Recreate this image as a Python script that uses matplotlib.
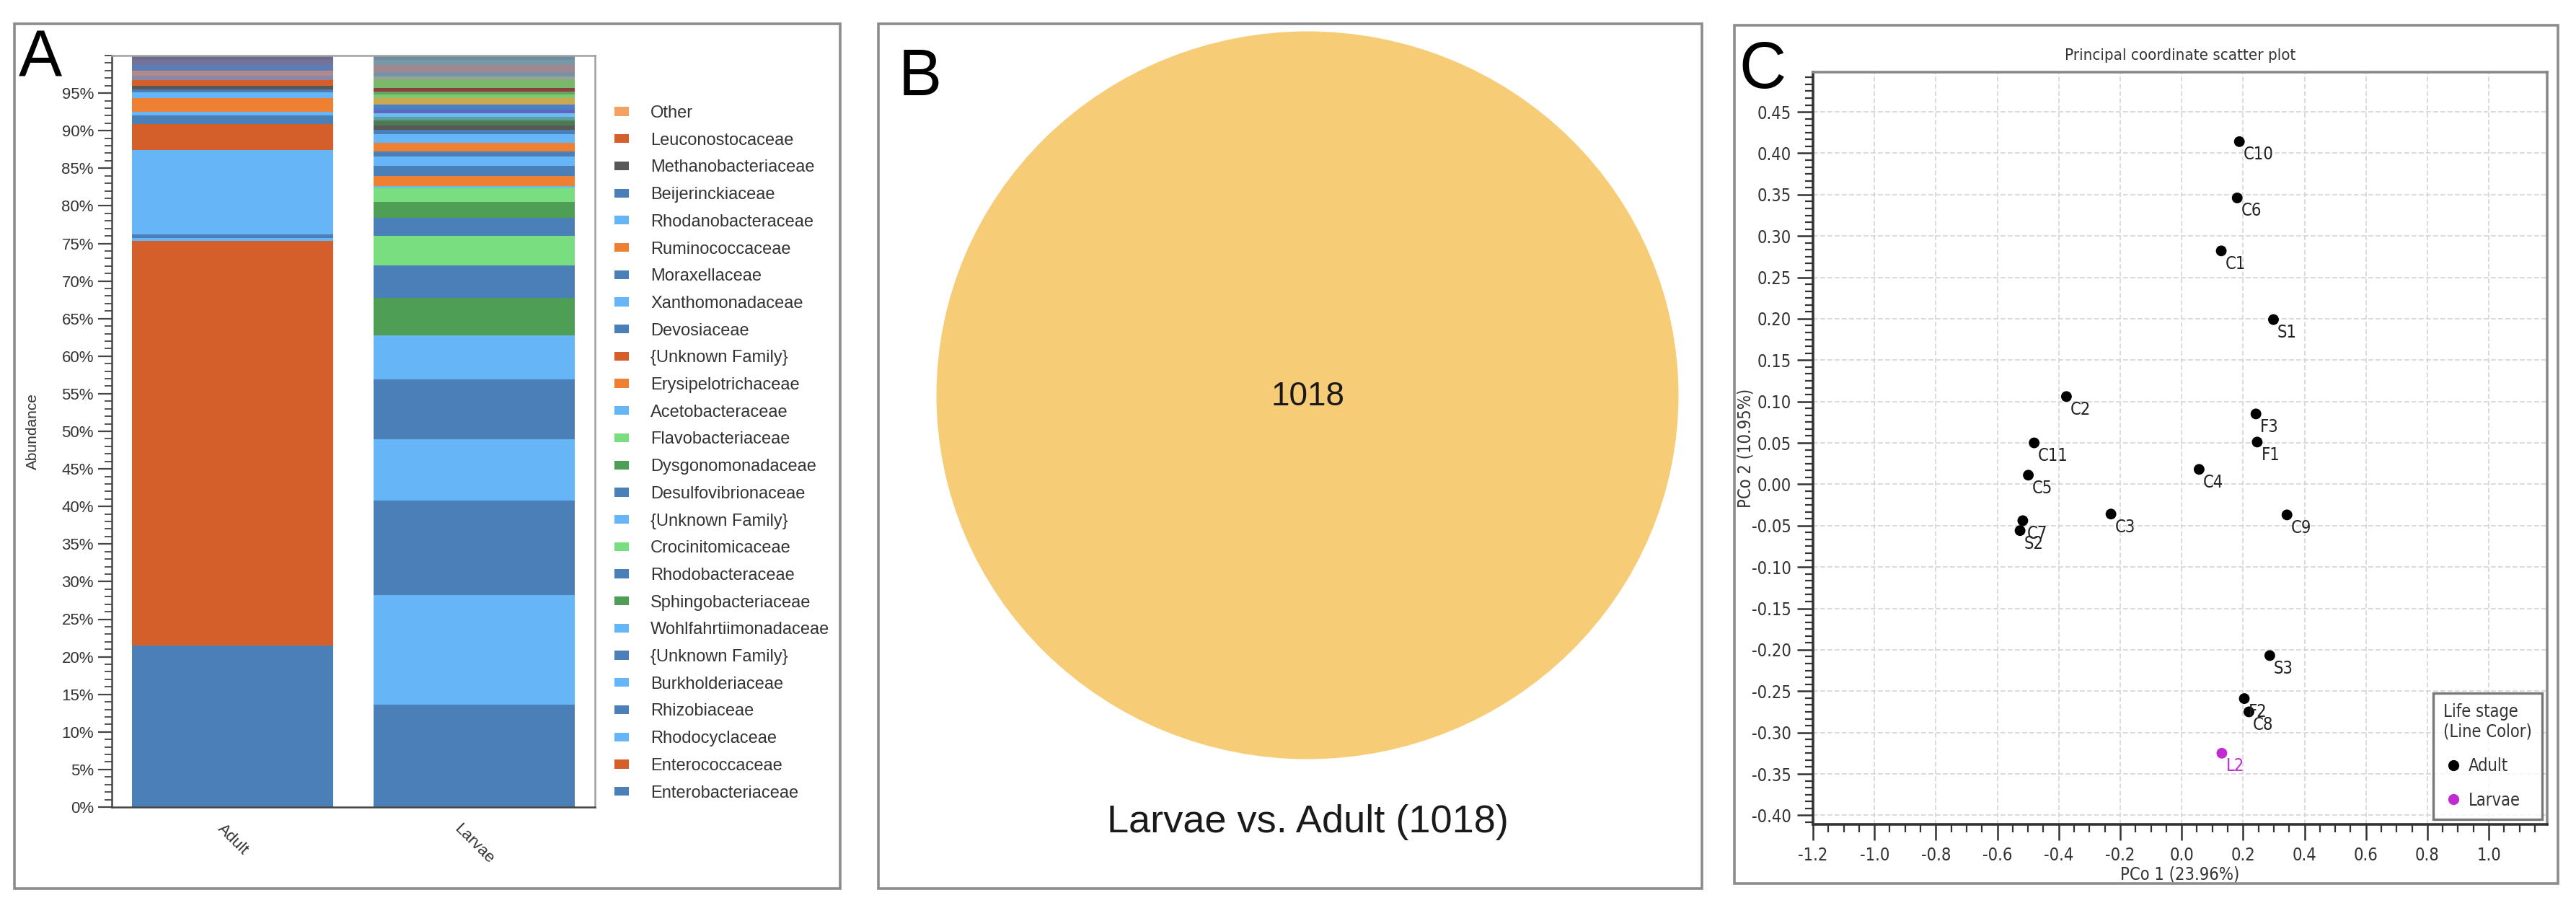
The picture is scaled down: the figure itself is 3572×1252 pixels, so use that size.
import numpy as np
import matplotlib
matplotlib.use('Agg')
import matplotlib.pyplot as plt
from matplotlib.patches import Rectangle, Ellipse, Patch
from matplotlib.lines import Line2D
from matplotlib.ticker import MultipleLocator, AutoMinorLocator, FuncFormatter
from matplotlib import font_manager

W, H = 3573, 1252  # output size in px (dpi 100)

# ---- panel A: relative abundance of families (%), stacked bottom -> top
families = ['Enterobacteriaceae', 'Enterococcaceae', 'Rhodocyclaceae', 'Rhizobiaceae', 'Burkholderiaceae',
            '{Unknown Family}', 'Wohlfahrtiimonadaceae', 'Sphingobacteriaceae', 'Rhodobacteraceae',
            'Crocinitomicaceae', '{Unknown Family}', 'Desulfovibrionaceae', 'Dysgonomonadaceae',
            'Flavobacteriaceae', 'Acetobacteraceae', 'Erysipelotrichaceae', '{Unknown Family}', 'Devosiaceae',
            'Xanthomonadaceae', 'Moraxellaceae', 'Ruminococcaceae', 'Rhodanobacteraceae', 'Beijerinckiaceae',
            'Methanobacteriaceae', 'Leuconostocaceae', 'Other']
adult = [21.5, 53.8, 0.4, 0.5, 11.2, 0.0, 0.0, 0.0, 0.0, 0.0, 0.0, 0.0, 0.0,
         0.0, 0.0, 0.0, 3.5, 1.1, 0.5, 0.0, 1.8, 0.8, 0.4, 0.5, 0.7, 0.0]
larvae = [13.6, 0.0, 14.6, 12.6, 8.1, 8.0, 5.9, 5.0, 4.3, 3.9, 0.0, 2.4, 2.1,
          1.9, 0.2, 1.4, 0.0, 1.3, 1.3, 0.6, 1.2, 1.1, 0.6, 0.6, 0.0, 0.0]
blue, lblue, ored, orange = '#4A7FB8', '#66B5F6', '#D55F2B', '#EE8034'
lgreen, green, dgray, lorange = '#79DE7F', '#4E9E56', '#585858', '#F3A263'
familyColors = [blue, ored, lblue, blue, lblue, blue, lblue, green, blue, lgreen, lblue, blue, green,
                lgreen, lblue, orange, ored, blue, lblue, blue, orange, lblue, blue, dgray, ored, lorange]
# thin stripes at the top of the bars that are not listed in the legend
minorColors = ['#4E7A52', '#5AA0A0', '#70B8F0', '#5C68C0', '#4A80C8', '#C8A850', '#80C870', '#60A860',
               '#8E3E3E', '#78B868', '#90A890', '#7890A8', '#A08890', '#7898A8', '#6F8CA0',
               '#8A88A6', '#B08A8C', '#5F7DB5', '#72729A', '#6C6C8C']
minorAdult = [0.0, 0.0, 0.0, 0.0, 0.0, 0.0, 0.0, 0.0, 0.0, 0.0, 0.0, 0.0, 0.0, 0.0, 0.0,
              0.6, 0.7, 0.8, 0.6, 0.6]
minorLarvae = [0.7, 0.4, 0.5, 0.5, 0.7, 0.8, 0.5, 0.4, 0.5, 1.0, 0.5, 0.6, 1.0, 0.6, 0.6,
               0.0, 0.0, 0.0, 0.0, 0.0]
stages = ['Adult', 'Larvae']

# ---- panel B: venn (single set)
vennLabel = 'Larvae vs. Adult'
sharedOtus = 1018

# ---- panel C: PCoA
samples = ['C10', 'C6', 'C1', 'S1', 'C2', 'F3', 'C11', 'F1', 'C5', 'C4', 'C7', 'S2', 'C3', 'C9',
           'S3', 'F2', 'C8', 'L2']
pc1 = [0.188, 0.181, 0.129, 0.299, -0.375, 0.242, -0.480, 0.246, -0.499, 0.057, -0.517, -0.526,
       -0.230, 0.343, 0.287, 0.204, 0.219, 0.131]
pc2 = [0.414, 0.346, 0.282, 0.199, 0.106, 0.085, 0.050, 0.051, 0.011, 0.018, -0.044, -0.056,
       -0.036, -0.037, -0.207, -0.259, -0.275, -0.325]
lifeStage = ['Adult'] * 17 + ['Larvae']
stageColors = {'Adult': '#000000', 'Larvae': '#C02CD0'}

# panel C uses a narrow font in the original; take one if installed
condensed = [f for f in font_manager.fontManager.ttflist
             if 'Narrow' in f.name or 'Condensed' in f.name or f.stretch in ('condensed', 'semi-condensed')]
if condensed:
    cFont = {'family': condensed[0].name, 'stretch': condensed[0].stretch}
    cSize, cTitle = 17, 16
else:
    cFont = {'family': 'Liberation Sans'}
    cSize, cTitle = 14.5, 14.6

plt.rcParams['font.family'] = ['Liberation Sans', 'DejaVu Sans']

fig = plt.figure(figsize=(W / 100, H / 100), dpi=100)

def figBox(x0, y0, x1, y1):  # px (top-left origin) -> figure fraction rect
    return [x0 / W, 1 - y1 / H, (x1 - x0) / W, (y1 - y0) / H]

# panel frames
for x0, y0, x1, y1 in [(20, 33, 1165, 1232), (1218, 33, 2360, 1232), (2405, 35, 3547, 1225)]:
    fig.patches.append(Rectangle((x0 / W, 1 - y1 / H), (x1 - x0) / W, (y1 - y0) / H,
                                 transform=fig.transFigure, fill=False, edgecolor='#8C8C8C', lw=2.6))
for letter, x, y in [('A', 26, 105), ('B', 1246, 132), ('C', 2411, 122)]:
    fig.text(x / W, 1 - y / H, letter, fontsize=65, va='baseline', ha='left')

# ---------------- A
axA = fig.add_axes(figBox(155, 77, 825, 1119))
xpos = np.arange(len(stages))
bottom = np.zeros(len(stages))
for vals, col in zip(zip(adult, larvae), familyColors):
    axA.bar(xpos, vals, bottom=bottom, width=0.83, color=col, linewidth=0)
    bottom += np.array(vals)
for vals, col in zip(zip(minorAdult, minorLarvae), minorColors):
    axA.bar(xpos, vals, bottom=bottom, width=0.83, color=col, linewidth=0)
    bottom += np.array(vals)
axA.set_xlim(-0.5, 1.5)
axA.set_ylim(0, 100)
axA.set_yticks(np.arange(0, 100, 5))
axA.yaxis.set_minor_locator(MultipleLocator(1))
axA.yaxis.set_major_formatter(FuncFormatter(lambda v, p: f'{int(round(v))}%'))
axA.tick_params(axis='y', which='major', length=14, width=1.6, colors='#444', labelsize=16, pad=4,
                labelcolor='#333')
axA.tick_params(axis='y', which='minor', length=7, width=1.3, colors='#444')
axA.set_xticks(xpos)
axA.set_xticklabels(stages, rotation=-45, ha='center', va='top', fontsize=16, color='#333')
axA.tick_params(axis='x', length=0, pad=14)
axA.set_ylabel('Abundance', fontsize=15, color='#333', labelpad=22)
for s in ['top', 'right']:
    axA.spines[s].set_color('#A0A0A0')
    axA.spines[s].set_linewidth(1.8)
for s in ['left', 'bottom']:
    axA.spines[s].set_color('#444')
    axA.spines[s].set_linewidth(1.8)

legHandles = [Patch(facecolor=c, edgecolor='none') for c in familyColors[::-1]]
fig.legend(legHandles, families[::-1], loc='upper left', bbox_to_anchor=(852 / W, 1 - 146 / H),
           frameon=False, fontsize=17, labelcolor='#333', handlelength=0.85, handleheight=0.42,
           handletextpad=1.27, labelspacing=0.665, borderpad=0, borderaxespad=0)

# ---------------- B
axB = fig.add_axes(figBox(1218, 33, 2360, 1232))
axB.set_xlim(0, 1142)
axB.set_ylim(1199, 0)
axB.axis('off')
axB.add_patch(Ellipse((595, 515), 1029, 1009, facecolor='#F6CC77', edgecolor='none'))
axB.text(595, 517, str(sharedOtus), fontsize=33, ha='center', va='center', color='#1A1A1A')
axB.text(595, 1107, f'{vennLabel} ({sharedOtus})', fontsize=39, ha='center', va='center', color='#1A1A1A')

# ---------------- C
axC = fig.add_axes(figBox(2514, 100, 3532, 1143))
cols = [stageColors[s] for s in lifeStage]
axC.scatter(pc1, pc2, s=115, c=cols, zorder=3, linewidths=0)
for name, x, y, c in zip(samples, pc1, pc2, cols):
    axC.annotate(name, (x, y), xytext=(4, -13), textcoords='offset points', ha='left', va='center',
                 fontsize=cSize, color=c if c != '#000000' else '#222', zorder=4, **cFont)
axC.set_xlim(-1.2, 1.19)
axC.set_ylim(-0.411, 0.498)
axC.set_xticks(np.round(np.arange(-1.2, 1.05, 0.2), 1))
axC.set_yticks(np.round(np.arange(-0.40, 0.46, 0.05), 2))
axC.xaxis.set_minor_locator(MultipleLocator(0.05))
axC.yaxis.set_minor_locator(AutoMinorLocator(6))
axC.xaxis.set_major_formatter(FuncFormatter(lambda v, p: f'{(0.0 if abs(v) < 1e-9 else v):.1f}'))
axC.yaxis.set_major_formatter(FuncFormatter(lambda v, p: f'{(0.0 if abs(v) < 1e-9 else v):.2f}'))
axC.tick_params(which='major', length=16, width=1.8, colors='#333', labelsize=cSize, pad=6)
axC.tick_params(which='minor', length=8, width=1.6, colors='#333')
for lab in axC.get_xticklabels() + axC.get_yticklabels():
    lab.set(**cFont)
axC.grid(True, which='major', color='#D4D4D4', linestyle=(0, (4, 2)), linewidth=1.2)
axC.set_axisbelow(True)
axC.set_title('Principal coordinate scatter plot', fontsize=cTitle, color='#333', pad=12, **cFont)
axC.set_xlabel('PCo 1 (23.96%)', fontsize=cSize, color='#333', labelpad=2, **cFont)
axC.set_ylabel('PCo 2 (10.95%)', fontsize=cSize, color='#333', labelpad=-3, **cFont)
for s in ['left', 'bottom']:
    axC.spines[s].set_color('#333')
    axC.spines[s].set_linewidth(2.6)
for s in ['top', 'right']:
    axC.spines[s].set_color('#888')
    axC.spines[s].set_linewidth(2.6)

stageHandles = [Line2D([], [], marker='o', linestyle='none', markersize=11, markerfacecolor=stageColors[s],
                       markeredgecolor='none') for s in stageColors]
legProp = dict(cFont, size=cSize)
leg = axC.legend(stageHandles, list(stageColors), title='Life stage\n(Line Color)', loc='lower right',
                 prop=legProp, title_fontproperties=legProp, frameon=True, fancybox=False,
                 edgecolor='#555', borderaxespad=0.3, borderpad=0.6, handletextpad=0.3,
                 handlelength=1.2, alignment='left', labelspacing=1.0)
leg.get_frame().set_linewidth(2.4)
leg.get_title().set_color('#333')
for t in leg.get_texts():
    t.set_color('#333')

fig.savefig('out.png', dpi=100)
